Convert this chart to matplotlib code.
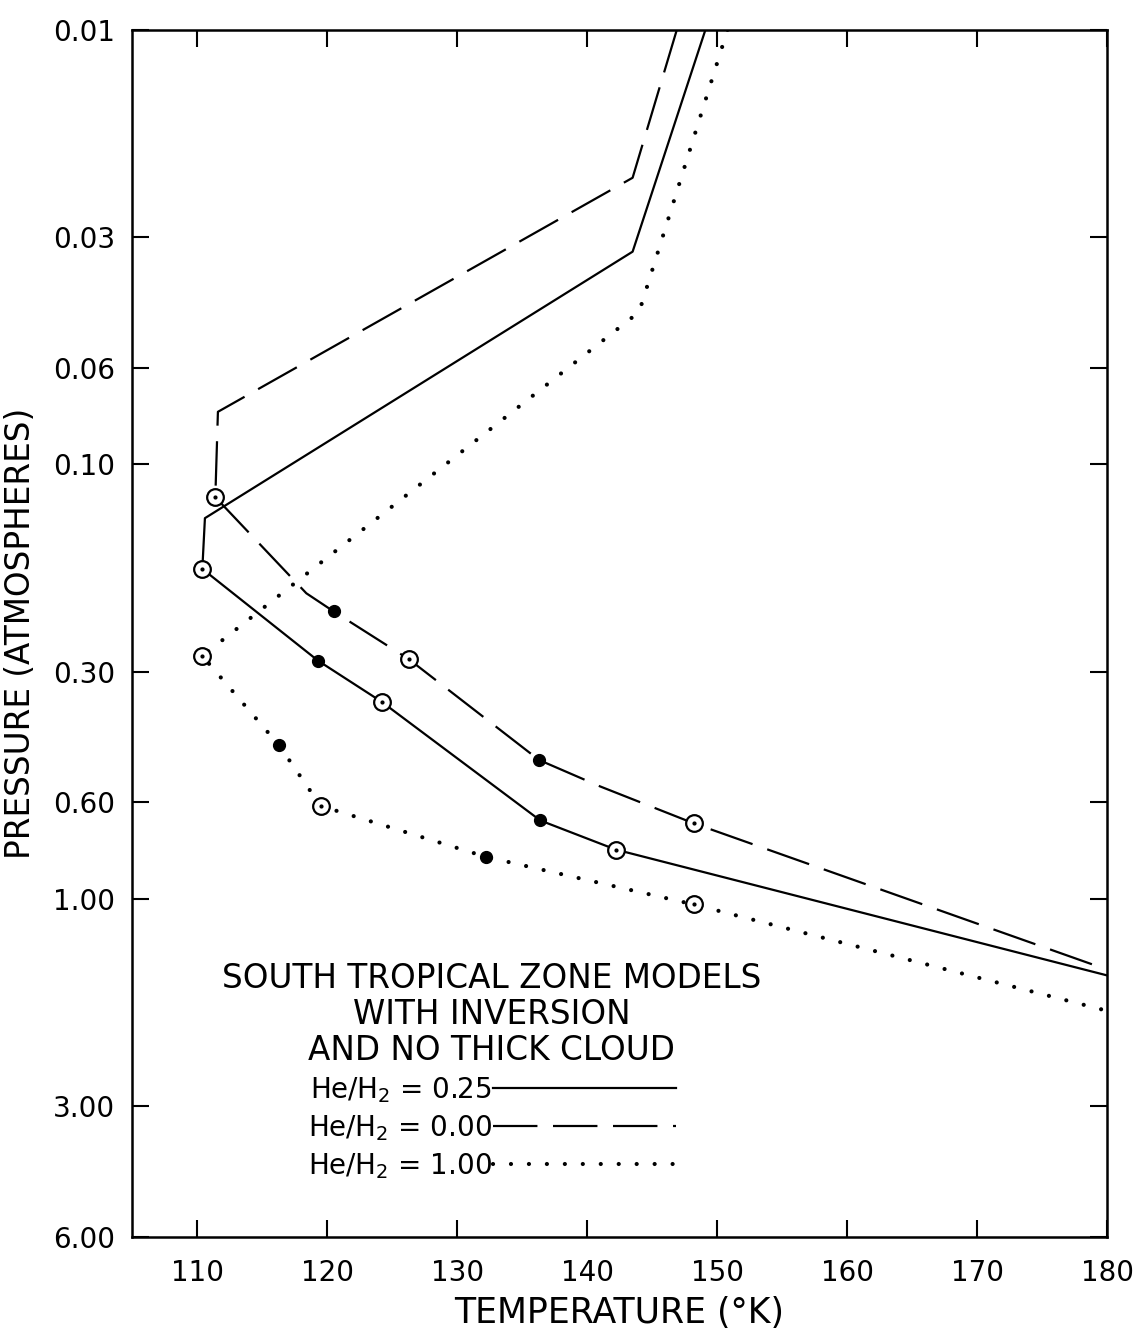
import matplotlib
matplotlib.use("Agg")
import matplotlib.pyplot as plt
from matplotlib.lines import Line2D

# He/H2 = 0.25 (solid)
solid_T = [149.1, 143.5, 110.6, 110.4, 119.3, 124.2, 136.4, 142.2, 180.0]
solid_P = [0.010, 0.0324, 0.133, 0.174, 0.283, 0.352, 0.66, 0.77, 1.50]
solid_open = [3, 5, 7]
solid_fill = [4, 6]

# He/H2 = 0.00 (dashed)
dashed_T = [146.9, 143.5, 111.6, 111.4, 118.4, 120.5, 126.3, 136.3, 141.0, 148.2, 179.3]
dashed_P = [0.010, 0.0219, 0.0757, 0.119, 0.198, 0.218, 0.281, 0.479, 0.551, 0.67, 1.43]
dashed_open = [3, 6, 9]
dashed_fill = [5, 7]

# He/H2 = 1.00 (dotted)
dotted_T = [150.8, 144.0, 110.4, 116.3, 119.5, 132.2, 148.2, 179.7]
dotted_P = [0.010, 0.0446, 0.276, 0.443, 0.611, 0.80, 1.03, 1.80]
dotted_open = [2, 4, 6]
dotted_fill = [3, 5]

x_ticks = [110, 120, 130, 140, 150, 160, 170, 180]
y_ticks = [0.01, 0.03, 0.06, 0.10, 0.30, 0.60, 1.00, 3.00, 6.00]
y_labels = ["0.01", "0.03", "0.06", "0.10", "0.30", "0.60", "1.00", "3.00", "6.00"]

series = [
    ("He/H$_2$ = 0.25", solid_T, solid_P, solid_open, solid_fill,
     dict(linestyle="-", linewidth=1.6)),
    ("He/H$_2$ = 0.00", dashed_T, dashed_P, dashed_open, dashed_fill,
     dict(linestyle=(0, (20, 7)), linewidth=1.6)),
    ("He/H$_2$ = 1.00", dotted_T, dotted_P, dotted_open, dotted_fill,
     dict(linestyle=(0, (0.01, 4.3)), linewidth=3.0, dash_capstyle="round")),
]

plt.rcParams["font.family"] = "DejaVu Sans"

fig = plt.figure(figsize=(11.39, 13.31), dpi=100)
ax = fig.add_axes([0.116, 0.0706, 0.856, 0.907])

handles = []
for label, T, P, open_idx, fill_idx, style in series:
    ax.plot(T, P, color="black", **style)
    ax.plot([T[i] for i in open_idx], [P[i] for i in open_idx], "o",
            markersize=12, markerfacecolor="white", markeredgecolor="black",
            markeredgewidth=1.6, zorder=3)
    ax.plot([T[i] for i in open_idx], [P[i] for i in open_idx], "o",
            markersize=2, color="black", zorder=4)
    ax.plot([T[i] for i in fill_idx], [P[i] for i in fill_idx], "o",
            markersize=8.5, color="black", zorder=3)
    handles.append(Line2D([], [], color="black", label=label, **style))

ax.set_yscale("log")
ax.set_xlim(105, 180)
ax.set_ylim(6.0, 0.01)

ax.set_xticks(x_ticks)
ax.set_xticklabels([str(t) for t in x_ticks])
ax.set_yticks(y_ticks)
ax.set_yticklabels(y_labels)
ax.minorticks_off()
ax.tick_params(direction="in", length=12, width=1.5, labelsize=20,
               top=True, right=True)
ax.tick_params(axis="x", pad=16)
ax.tick_params(axis="y", pad=12)
for s in ax.spines.values():
    s.set_linewidth(1.8)

ax.set_xlabel("TEMPERATURE (°K)", fontsize=25, labelpad=6)
ax.set_ylabel("PRESSURE (ATMOSPHERES)", fontsize=23.5, labelpad=12)

leg = ax.legend(handles=handles,
                title="SOUTH TROPICAL ZONE MODELS\nWITH INVERSION\nAND NO THICK CLOUD",
                loc="upper center", bbox_to_anchor=(0.369, 0.239),
                frameon=False, markerfirst=False, handlelength=6.6,
                handletextpad=0.05, labelspacing=0.3, fontsize=20,
                title_fontsize=23.5, alignment="center", borderpad=0)
leg.get_title().set_multialignment("center")
leg.get_title().set_linespacing(1.1)

fig.savefig("out.png", dpi=100)
